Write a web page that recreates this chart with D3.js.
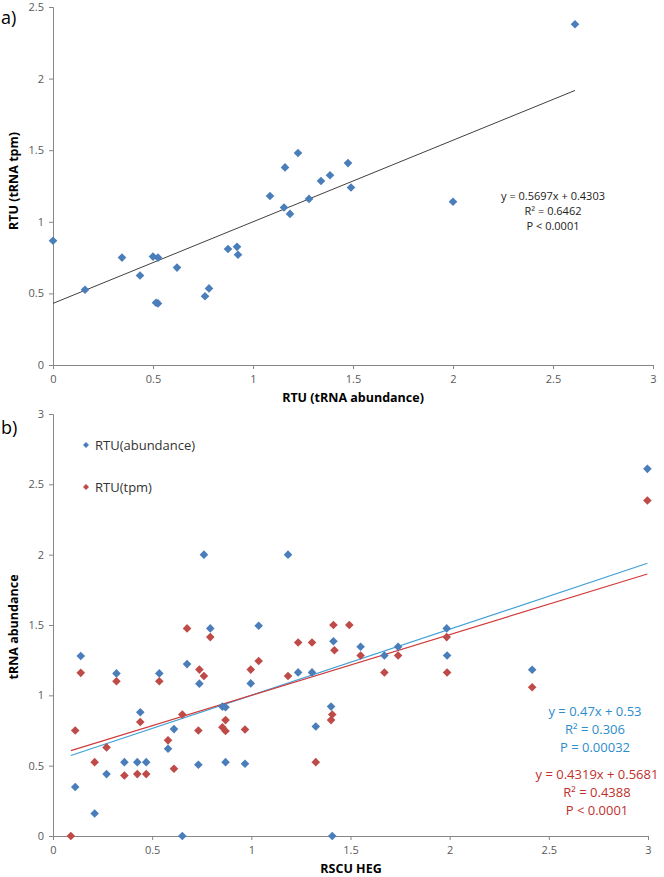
<!DOCTYPE html>
<html><head><meta charset="utf-8">
<script src="https://cdn.jsdelivr.net/npm/d3@7"></script>
<style>
html,body{margin:0;padding:0;background:#fff;}
svg text{font-family:"Open Sans",sans-serif;}
</style></head>
<body>
<script>
// Panel a: RTU (tRNA abundance) vs RTU (tRNA tpm)
const aAbundance = [0,0.16,0.345,0.435,0.5,0.525,0.515,0.525,0.62,0.76,0.78,0.875,0.92,0.925,1.085,1.155,1.16,1.185,1.225,1.28,1.34,1.385,1.475,1.49,2.0,2.61];
const aTpm       = [0.868,0.525,0.75,0.625,0.757,0.75,0.435,0.43,0.68,0.48,0.535,0.81,0.825,0.77,1.18,1.10,1.38,1.055,1.48,1.16,1.285,1.325,1.41,1.24,1.14,2.38];
const aFit = {slope:0.5697, intercept:0.4303};
const aTicksX = [0,0.5,1,1.5,2,2.5,3];
const aTicksY = [0,0.5,1,1.5,2,2.5];
const aEqText = ["y = 0.5697x + 0.4303","R² = 0.6462","P < 0.0001"];

// Panel b: RSCU HEG vs RTU
const bBlueX = [0.112,0.14,0.21,0.27,0.32,0.36,0.425,0.44,0.47,0.536,0.58,0.61,0.652,0.676,0.733,0.738,0.761,0.793,0.854,0.87,0.87,0.968,0.997,1.037,1.185,1.236,1.306,1.325,1.402,1.408,1.414,1.551,1.671,1.74,1.985,1.987,2.416,2.997];
const bBlueY = [0.348,1.28,0.16,0.44,1.156,0.525,0.525,0.88,0.525,1.156,0.62,0.76,0,1.222,0.507,1.083,2.0,1.476,0.92,0.915,0.525,0.514,1.085,1.495,2.0,1.163,1.163,0.778,0.92,0,1.384,1.345,1.283,1.345,1.476,1.283,1.182,2.61];
const bRedX = [0.09,0.112,0.14,0.21,0.27,0.32,0.36,0.425,0.44,0.47,0.536,0.58,0.61,0.652,0.676,0.733,0.738,0.761,0.793,0.854,0.87,0.87,0.968,0.997,1.037,1.185,1.236,1.306,1.325,1.402,1.408,1.414,1.419,1.494,1.551,1.671,1.74,1.985,1.987,2.416,2.997];
const bRedY = [0,0.75,1.16,0.525,0.63,1.10,0.43,0.44,0.81,0.44,1.10,0.68,0.478,0.864,1.476,0.75,1.183,1.137,1.414,0.773,0.824,0.746,0.757,1.183,1.244,1.137,1.376,1.376,0.525,0.824,0.864,1.50,1.32,1.50,1.283,1.162,1.283,1.414,1.162,1.057,2.385];
const bBlueFit = {slope:0.47, intercept:0.53};
const bRedFit = {slope:0.4319, intercept:0.5681};
const bTicksX = [0,0.5,1,1.5,2,2.5,3];
const bTicksY = [0,0.5,1,1.5,2,2.5,3];
const bBlueText = ["y = 0.47x + 0.53","R² = 0.306","P = 0.00032"];
const bRedText = ["y = 0.4319x + 0.5681","R² = 0.4388","P < 0.0001"];
const legendLabels = ["RTU(abundance)","RTU(tpm)"];

const W = 664, H = 877;
const svg = d3.select("body").append("svg").attr("width",W).attr("height",H);

const AXIS = "#868686", TICKTXT = "#595959";
const BLUE = "#4a7ebb", RED = "#be4b48";
const diamond = s => `M0,${-s}L${s},0L0,${s}L${-s},0Z`;

function axes(g, x, y, tx, ty) {
  const gx = g.append("g").attr("transform",`translate(0,${y.range()[0]})`)
    .call(d3.axisBottom(x).tickValues(tx).tickSize(4).tickPadding(6).tickFormat(d3.format("")));
  const gy = g.append("g").attr("transform",`translate(${x.range()[0]},0)`)
    .call(d3.axisLeft(y).tickValues(ty).tickSize(4).tickPadding(5).tickFormat(d3.format("")));
  [gx,gy].forEach(a=>{
    a.select(".domain").attr("stroke",AXIS);
    a.selectAll(".tick line").attr("stroke",AXIS);
    a.selectAll(".tick text").attr("fill",TICKTXT).style("font-size","11px");
  });
}

// ---- Panel a ----
{
  const x = d3.scaleLinear().domain([0,3]).range([53,653]);
  const y = d3.scaleLinear().domain([0,2.5]).range([365,7]);
  const g = svg.append("g");
  axes(g,x,y,aTicksX,aTicksY);
  const xe = d3.max(aAbundance);
  g.append("line").attr("x1",x(0)).attr("x2",x(xe))
    .attr("y1",y(aFit.intercept)).attr("y2",y(aFit.slope*xe+aFit.intercept))
    .attr("stroke","#404040").attr("stroke-width",1);
  g.selectAll("path.pa").data(aAbundance).join("path").attr("class","pa")
    .attr("d",diamond(4.3)).attr("fill",BLUE)
    .attr("transform",(d,i)=>`translate(${x(d)},${y(aTpm[i])})`);
  g.selectAll("text.eq").data(aEqText).join("text").attr("class","eq")
    .attr("x",553).attr("y",(d,i)=>196+15*i).attr("dy","0.35em")
    .attr("text-anchor","middle").style("font-size","11px").attr("fill","#222").text(d=>d);
  g.append("text").attr("x",353).attr("y",402).attr("text-anchor","middle")
    .style("font-size","12.5px").style("font-weight","bold").text("RTU (tRNA abundance)");
  g.append("text").attr("transform","translate(18,181) rotate(-90)").attr("text-anchor","middle")
    .style("font-size","12.5px").style("font-weight","bold").text("RTU (tRNA tpm)");
  g.append("text").attr("x",1).attr("y",24).style("font-size","18px").text("a)");
}

// ---- Panel b ----
{
  const x = d3.scaleLinear().domain([0,3]).range([53,648]);
  const y = d3.scaleLinear().domain([0,3]).range([836,414]);
  const g = svg.append("g");
  axes(g,x,y,bTicksX,bTicksY);
  const xs = d3.min(bRedX), xe = d3.max(bRedX);
  [[bBlueFit,"#3fa0d6"],[bRedFit,"#d03a3a"]].forEach(([f,c])=>{
    g.append("line").attr("x1",x(xs)).attr("x2",x(xe))
      .attr("y1",y(f.slope*xs+f.intercept)).attr("y2",y(f.slope*xe+f.intercept))
      .attr("stroke",c).attr("stroke-width",1.2);
  });
  g.selectAll("path.pb").data(bBlueX).join("path").attr("class","pb")
    .attr("d",diamond(4.3)).attr("fill",BLUE)
    .attr("transform",(d,i)=>`translate(${x(d)},${y(bBlueY[i])})`);
  g.selectAll("path.pr").data(bRedX).join("path").attr("class","pr")
    .attr("d",diamond(4.3)).attr("fill",RED)
    .attr("transform",(d,i)=>`translate(${x(d)},${y(bRedY[i])})`);
  g.selectAll("text.eb").data(bBlueText).join("text").attr("class","eb")
    .attr("x",595).attr("y",(d,i)=>711+18*i).attr("dy","0.35em")
    .attr("text-anchor","middle").style("font-size","13px").attr("fill","#2e8ccb").text(d=>d);
  g.selectAll("text.er").data(bRedText).join("text").attr("class","er")
    .attr("x",597).attr("y",(d,i)=>774+18*i).attr("dy","0.35em")
    .attr("text-anchor","middle").style("font-size","13px").attr("fill","#c0302c").text(d=>d);
  // legend
  const lg = g.selectAll("g.lg").data(legendLabels).join("g").attr("class","lg")
    .attr("transform",(d,i)=>`translate(86,${445+42*i})`);
  lg.append("path").attr("d",diamond(3)).attr("fill",(d,i)=>i?RED:BLUE);
  lg.append("text").attr("x",9).attr("dy","0.35em").style("font-size","13px").attr("fill","#333").text(d=>d);
  g.append("text").attr("x",351).attr("y",873).attr("text-anchor","middle")
    .style("font-size","12.5px").style("font-weight","bold").text("RSCU HEG");
  g.append("text").attr("transform","translate(18,627) rotate(-90)").attr("text-anchor","middle")
    .style("font-size","12.5px").style("font-weight","bold").text("tRNA abundance");
  g.append("text").attr("x",1).attr("y",434).style("font-size","18px").text("b)");
}
</script>
</body></html>
